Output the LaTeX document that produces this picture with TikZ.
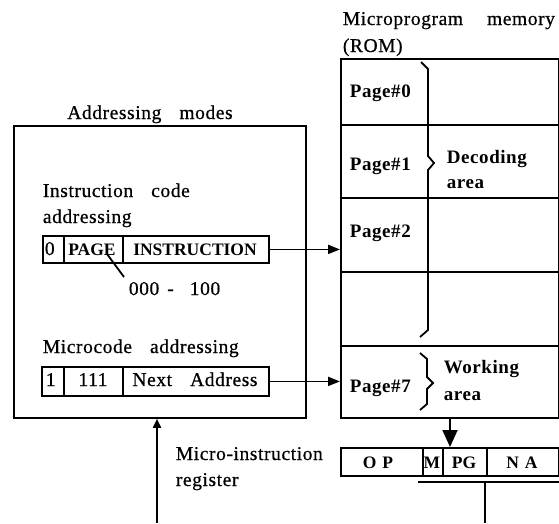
\documentclass[tikz,border=0pt]{standalone}
\usepackage{fontspec}
\setmainfont{Liberation Serif}
\newfontfamily\lbl[LetterSpace=3,WordSpace=3.3,FakeBold=0.6]{Liberation Serif}
\newfontfamily\blbl[LetterSpace=3]{Liberation Serif Bold}
\usetikzlibrary{arrows.meta}
\begin{document}
\begin{tikzpicture}[x=1pt,y=-1pt,line width=1.8pt,
  txt/.style={inner sep=0pt,font=\lbl\fontsize{19.5}{21}\selectfont},
  btxt/.style={inner sep=0pt,font=\blbl\fontsize{19}{21}\selectfont},
  nbtxt/.style={inner sep=0pt,font=\bfseries\fontsize{17.5}{20}\selectfont},
  box/.style={draw,inner sep=0pt,anchor=north west},
  arr/.style={-{Triangle[length=12pt,width=9pt]}},
  bigarr/.style={-{Triangle[length=17pt,width=15pt]}},
  uparr/.style={-{Triangle[length=9pt,width=8pt]}}]
\useasboundingbox (0,0) rectangle (559,523);

% ---- left box: addressing modes
\node[box,minimum width=292pt,minimum height=292pt] (modes) at (13,125) {};
\node[txt,anchor=base] (modest) at (150,119) {Addressing modes};
\node[txt,anchor=base west] (ic1) at (42,197) {Instruction code};
\node[txt,anchor=base west] (ic2) at (42,223) {addressing};
% instruction code fields
\node[box,minimum width=21pt,minimum height=27pt] (f0) at (42,235) {};
\node[box,minimum width=59pt,minimum height=27pt] (fpage) at (63,235) {};
\node[box,minimum width=146pt,minimum height=27pt] (finstr) at (122,235) {};
\node[txt,anchor=base west] (f0t) at (44,255) {0};
\node[nbtxt,anchor=base] (fpaget) at (92,255) {PAGE};
\node[nbtxt,anchor=base] (finstrt) at (195,255) {INSTRUCTION};
\coordinate (pl1) at (107,254);
\coordinate (pl2) at (124,277);
\draw (pl1) -- (pl2);
\node[txt,anchor=base west] (range) at (128,295) {000\hspace{8pt}-\hspace{16pt}100};
% microcode fields
\node[txt,anchor=base west] (mc) at (42,353) {Microcode addressing};
\node[box,minimum width=22pt,minimum height=29pt] (g1) at (41,366) {};
\node[box,minimum width=59pt,minimum height=29pt] (g111) at (63,366) {};
\node[box,minimum width=146pt,minimum height=29pt] (gnext) at (122,366) {};
\node[txt,anchor=base west] (g1t) at (45,386) {1};
\node[txt,anchor=base] (g111t) at (93,386) {111};
\node[txt,anchor=base] (gnextt) at (195,386) {Next Address};

% ---- ROM
\node[txt,anchor=base west] (romt1) at (342,25) {Microprogram\hspace{6pt} memory};
\node[txt,anchor=base west] (romt2) at (342,52) {(ROM)};
\node[box,minimum width=218pt,minimum height=66pt] (r0) at (340,58) {};
\node[box,minimum width=218pt,minimum height=73pt] (r1) at (340,124) {};
\node[box,minimum width=218pt,minimum height=74pt] (r2) at (340,197) {};
\node[box,minimum width=218pt,minimum height=74pt] (r3) at (340,271) {};
\node[box,minimum width=218pt,minimum height=72pt] (r7) at (340,345) {};
\node[btxt,anchor=base west] (p0) at (349,97) {Page\#0};
\node[btxt,anchor=base west] (p1) at (349,170) {Page\#1};
\node[btxt,anchor=base west] (p2) at (349,237) {Page\#2};
\node[btxt,anchor=base west] (p7) at (349,392) {Page\#7};
\node[btxt,anchor=base west] (dec1) at (446,163) {Decoding};
\node[btxt,anchor=base west] (dec2) at (446,188) {area};
\node[btxt,anchor=base west] (wk1) at (443,373) {Working};
\node[btxt,anchor=base west] (wk2) at (443,400) {area};
% braces
\draw (421,62) -- (428,69) -- (428,156) -- (434,163) -- (428,170) -- (428,330) -- (420,337);
\draw (420,353) -- (427,359) -- (427,377) -- (433,383) -- (427,389) -- (427,404) -- (420,410);

% ---- micro-instruction register
\node[txt,anchor=base west] (mir1) at (175,460) {Micro-instruction};
\node[txt,anchor=base west] (mir2) at (175,486) {register};
\node[box,minimum width=82pt,minimum height=28pt] (ro) at (340,447) {};
\node[box,minimum width=20pt,minimum height=28pt] (rm) at (422,447) {};
\node[box,minimum width=44pt,minimum height=28pt] (rpg) at (442,447) {};
\node[box,minimum width=72pt,minimum height=28pt] (rna) at (486,447) {};
\node[nbtxt,anchor=base] (rot) at (378,468) {O\,\,P};
\node[nbtxt,anchor=base] (rmt) at (432,468) {M};
\node[nbtxt,anchor=base] (rpgt) at (464,468) {PG};
\node[nbtxt,anchor=base] (rnat) at (522,468) {N\,\,A};

% ---- connectors
\draw[arr] (finstr.east) -- (finstr.east -| r2.west);
\draw[arr] (gnext.east) -- (gnext.east -| r7.west);
\coordinate (dx) at (450,0);
\draw[bigarr] (r7.south -| dx) -- (ro.north -| dx);
\coordinate (upbot) at (157,523);
\draw[uparr] (upbot) -- (upbot |- modes.south);
\coordinate (ul) at (418,482);
\draw (ul) -- (ul -| rna.east);
\coordinate (vl) at (485,482);
\coordinate (vlb) at (485,523);
\draw (vl) -- (vlb);
\end{tikzpicture}
\end{document}
